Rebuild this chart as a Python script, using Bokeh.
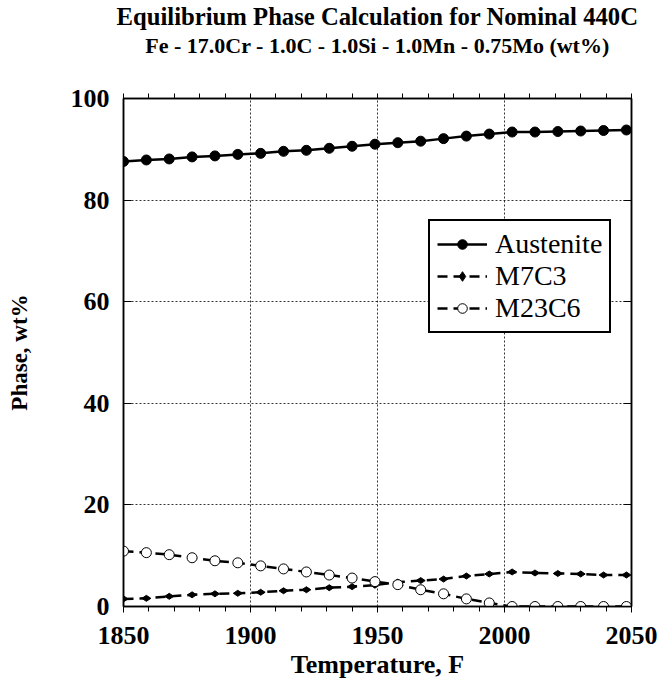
import math
from bokeh.plotting import figure
from bokeh.models import (Range1d, LinearAxis, FixedTicker, Title, Legend, LegendItem)
from bokeh.embed import file_html
from bokeh.resources import INLINE

temperature_f = [1850, 1859, 1868, 1877, 1886, 1895, 1904, 1913, 1922, 1931, 1940, 1949,
                 1958, 1967, 1976, 1985, 1994, 2003, 2012, 2021, 2030, 2039, 2048]
austenite = [87.6, 87.9, 88.1, 88.5, 88.7, 89.0, 89.2, 89.6, 89.8, 90.2, 90.6, 91.0,
             91.3, 91.6, 92.1, 92.6, 93.0, 93.4, 93.4, 93.5, 93.6, 93.7, 93.8]
m7c3 = [1.5, 1.6, 2.0, 2.3, 2.5, 2.6, 2.8, 3.1, 3.3, 3.7, 3.9, 4.2,
        4.8, 5.1, 5.4, 6.0, 6.4, 6.8, 6.6, 6.5, 6.4, 6.2, 6.2]
m23c6 = [10.9, 10.6, 10.2, 9.6, 9.0, 8.6, 8.0, 7.4, 6.8, 6.2, 5.6, 4.9,
         4.3, 3.3, 2.5, 1.5, 0.7, 0.0, 0.0, 0.0, 0.0, 0.0, 0.0]
x_ticks = [1850, 1900, 1950, 2000, 2050]
x_minor = [v for v in range(1850, 2051, 10)]
y_ticks = [0, 20, 40, 60, 80, 100]

title_text = "Equilibrium Phase Calculation for Nominal 440C"
subtitle_text = "Fe - 17.0Cr - 1.0C - 1.0Si - 1.0Mn - 0.75Mo (wt%)"

SERIF = "Liberation Serif"

p = figure(width=663, height=690, output_backend="svg", toolbar_location=None,
           x_range=Range1d(1850, 2050), y_range=Range1d(0, 100),
           x_axis_label="Temperature, F", y_axis_label="Phase, wt%")
p.title.visible = False
p.frame_width = 508
p.frame_height = 508
p.min_border_left = 123
p.min_border_right = 31
p.min_border_top = 98
p.min_border_bottom = 83
p.outline_line_color = "black"
p.outline_line_width = 1.5
p.background_fill_color = "white"
p.border_fill_color = "white"

for ax in p.xaxis:
    ax.ticker = FixedTicker(ticks=x_ticks, minor_ticks=x_minor)
for ax in p.yaxis:
    ax.ticker = FixedTicker(ticks=y_ticks, minor_ticks=[])

def style_axis(ax):
    ax.axis_line_color = "black"
    ax.axis_line_width = 1.5
    ax.major_tick_line_color = "black"
    ax.minor_tick_line_color = "black"
    ax.major_tick_line_width = 1
    ax.minor_tick_line_width = 1
    ax.major_label_text_font = SERIF
    ax.major_label_text_font_style = "bold"
    ax.major_label_text_color = "black"
    ax.axis_label_text_font = SERIF
    ax.axis_label_text_font_style = "bold"
    ax.axis_label_text_color = "black"

xa = p.xaxis[0]
ya = p.yaxis[0]
style_axis(xa)
style_axis(ya)
xa.major_tick_in = 0
xa.major_tick_out = 6
xa.minor_tick_in = 0
xa.minor_tick_out = 5
ya.major_tick_in = 8
ya.major_tick_out = 0
xa.major_label_text_font_size = "26px"
ya.major_label_text_font_size = "26px"
xa.axis_label_text_font_size = "26px"
ya.axis_label_text_font_size = "23px"
xa.major_label_standoff = 14
ya.major_label_standoff = 14
xa.axis_label_standoff = 3
ya.axis_label_standoff = 36

# top axis: outward small ticks only; it carries the subtitle as its label
top_axis = LinearAxis(ticker=FixedTicker(ticks=[], minor_ticks=x_minor),
                      axis_label=subtitle_text)
style_axis(top_axis)
top_axis.major_tick_in = 0
top_axis.major_tick_out = 5
top_axis.minor_tick_in = 0
top_axis.minor_tick_out = 5
top_axis.axis_label_text_font_size = "22px"
top_axis.axis_label_standoff = 36
p.add_layout(top_axis, "above")
# right axis: inward ticks at major positions (no labels)
right_axis = LinearAxis(ticker=FixedTicker(ticks=[], minor_ticks=y_ticks))
style_axis(right_axis)
right_axis.minor_tick_in = 8
right_axis.minor_tick_out = 0
p.add_layout(right_axis, "right")

p.xgrid.ticker = FixedTicker(ticks=x_ticks)
p.ygrid.ticker = FixedTicker(ticks=y_ticks)
for g in (p.xgrid[0], p.ygrid[0]):
    g.grid_line_color = "black"
    g.grid_line_dash = "2 2"
    g.grid_line_width = 1
    g.grid_line_alpha = 0.8

r1l = p.line(temperature_f, austenite, line_color="black", line_width=2.5)
r1s = p.scatter(temperature_f, austenite, marker="circle", size=10,
                fill_color="black", line_color="black")
r2l = p.line(temperature_f, m7c3, line_color="black", line_width=2.5, line_dash="10 6")
r2s = p.scatter(temperature_f, m7c3, marker="diamond", size=9, angle=math.pi / 2,
                fill_color="black", line_color="black")
r3l = p.line(temperature_f, m23c6, line_color="black", line_width=2.5, line_dash="10 6")
r3s = p.scatter(temperature_f, m23c6, marker="circle", size=10,
                fill_color="white", line_color="black", line_width=1)

legend = Legend(items=[
    LegendItem(label="Austenite", renderers=[r1l, r1s]),
    LegendItem(label="M7C3", renderers=[r2l, r2s]),
    LegendItem(label="M23C6", renderers=[r3l, r3s]),
], location=(305, 273))
legend.label_text_font = SERIF
legend.label_text_font_size = "28px"
legend.label_text_color = "black"
legend.glyph_width = 50
legend.glyph_height = 24
legend.label_height = 24
legend.label_standoff = 8
legend.spacing = 0
legend.padding = 7
legend.margin = 0
legend.border_line_color = "black"
legend.border_line_alpha = 1
legend.border_line_width = 2
legend.background_fill_color = "white"
legend.background_fill_alpha = 1
p.add_layout(legend, "center")

p.add_layout(Title(text=title_text, align="center", text_font=SERIF,
                   text_font_style="bold", text_font_size="24.7px",
                   text_color="black", standoff=0), "above")

open("out.html", "w").write(file_html(p, INLINE))
